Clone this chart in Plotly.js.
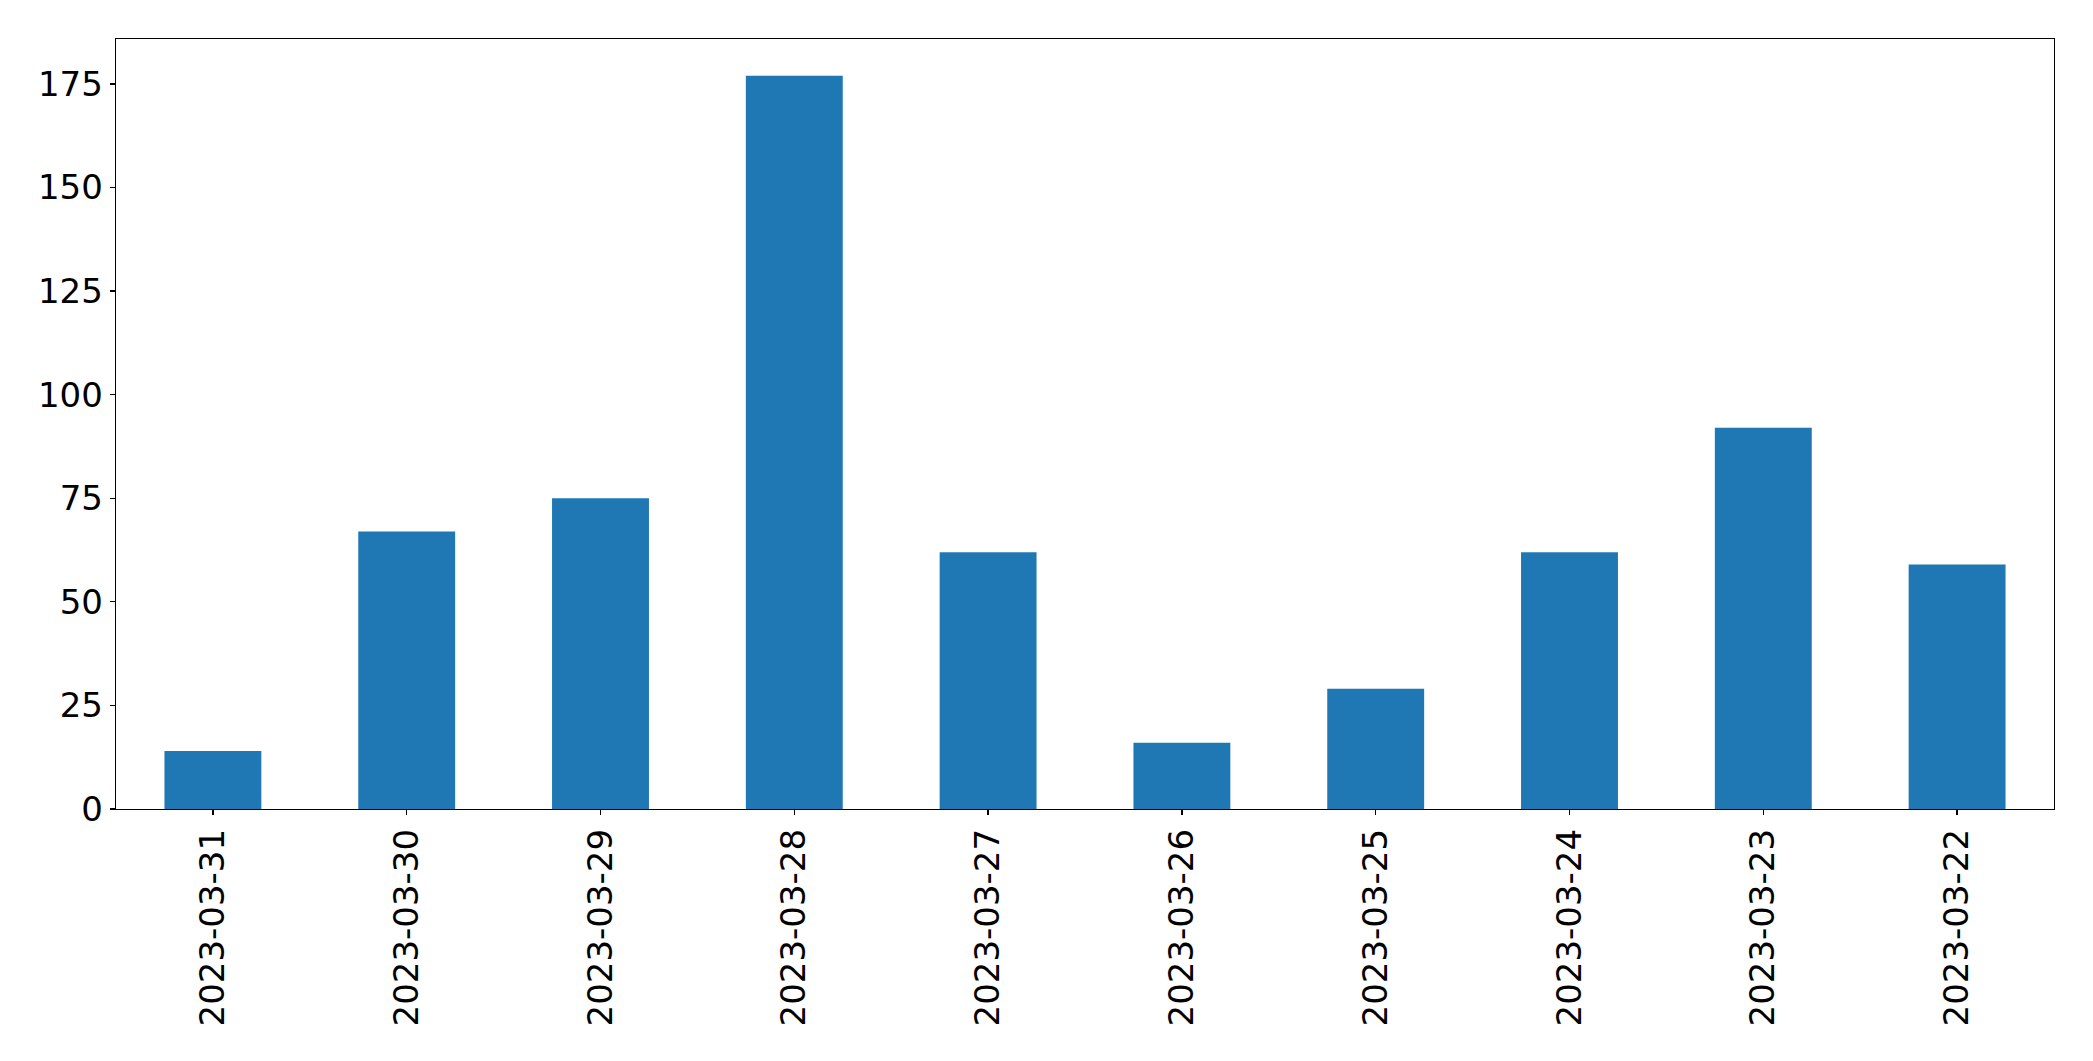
<!DOCTYPE html>
<html>
<head>
<meta charset="utf-8">
<script src="https://cdn.plot.ly/plotly-3.0.1.min.js"></script>
<style>html,body{margin:0;padding:0;background:#fff;}#chart{width:2093px;height:1061px;}</style>
</head>
<body>
<div id="chart"></div>
<script>
const dates = ["2023-03-31","2023-03-30","2023-03-29","2023-03-28","2023-03-27","2023-03-26","2023-03-25","2023-03-24","2023-03-23","2023-03-22"];
const counts = [14, 67, 75, 177, 62, 16, 29, 62, 92, 59];
const yTicks = [0, 25, 50, 75, 100, 125, 150, 175];

const trace = {
  type: 'bar',
  x: dates,
  y: counts,
  width: 0.5,
  marker: {color: '#1f77b4', line: {width: 0}},
  hoverinfo: 'x+y'
};

const tf = {family: 'DejaVu Sans', size: 34, color: '#000'};

const layout = {
  width: 2093,
  height: 1061,
  margin: {l: 116, r: 39, t: 39, b: 252, pad: 0},
  paper_bgcolor: '#ffffff',
  plot_bgcolor: '#ffffff',
  showlegend: false,
  font: tf,
  xaxis: {
    type: 'category',
    range: [-0.5, 9.5],
    tickangle: -90,
    ticks: 'outside',
    ticklen: 5,
    tickwidth: 1.3,
    tickcolor: '#000',
    showline: true,
    linecolor: '#000',
    linewidth: 1.3,
    mirror: true,
    showgrid: false,
    zeroline: false,
    tickfont: tf,
    automargin: false
  },
  yaxis: {
    range: [0, 185.85],
    tickmode: 'array',
    tickvals: yTicks,
    ticktext: yTicks.map(String),
    ticks: 'outside',
    ticklen: 5,
    tickwidth: 1.3,
    tickcolor: '#000',
    showline: true,
    linecolor: '#000',
    linewidth: 1.3,
    mirror: true,
    showgrid: false,
    zeroline: false,
    tickfont: tf,
    automargin: false
  }
};

Plotly.newPlot('chart', [trace], layout, {displayModeBar: false, staticPlot: true});
</script>
</body>
</html>
